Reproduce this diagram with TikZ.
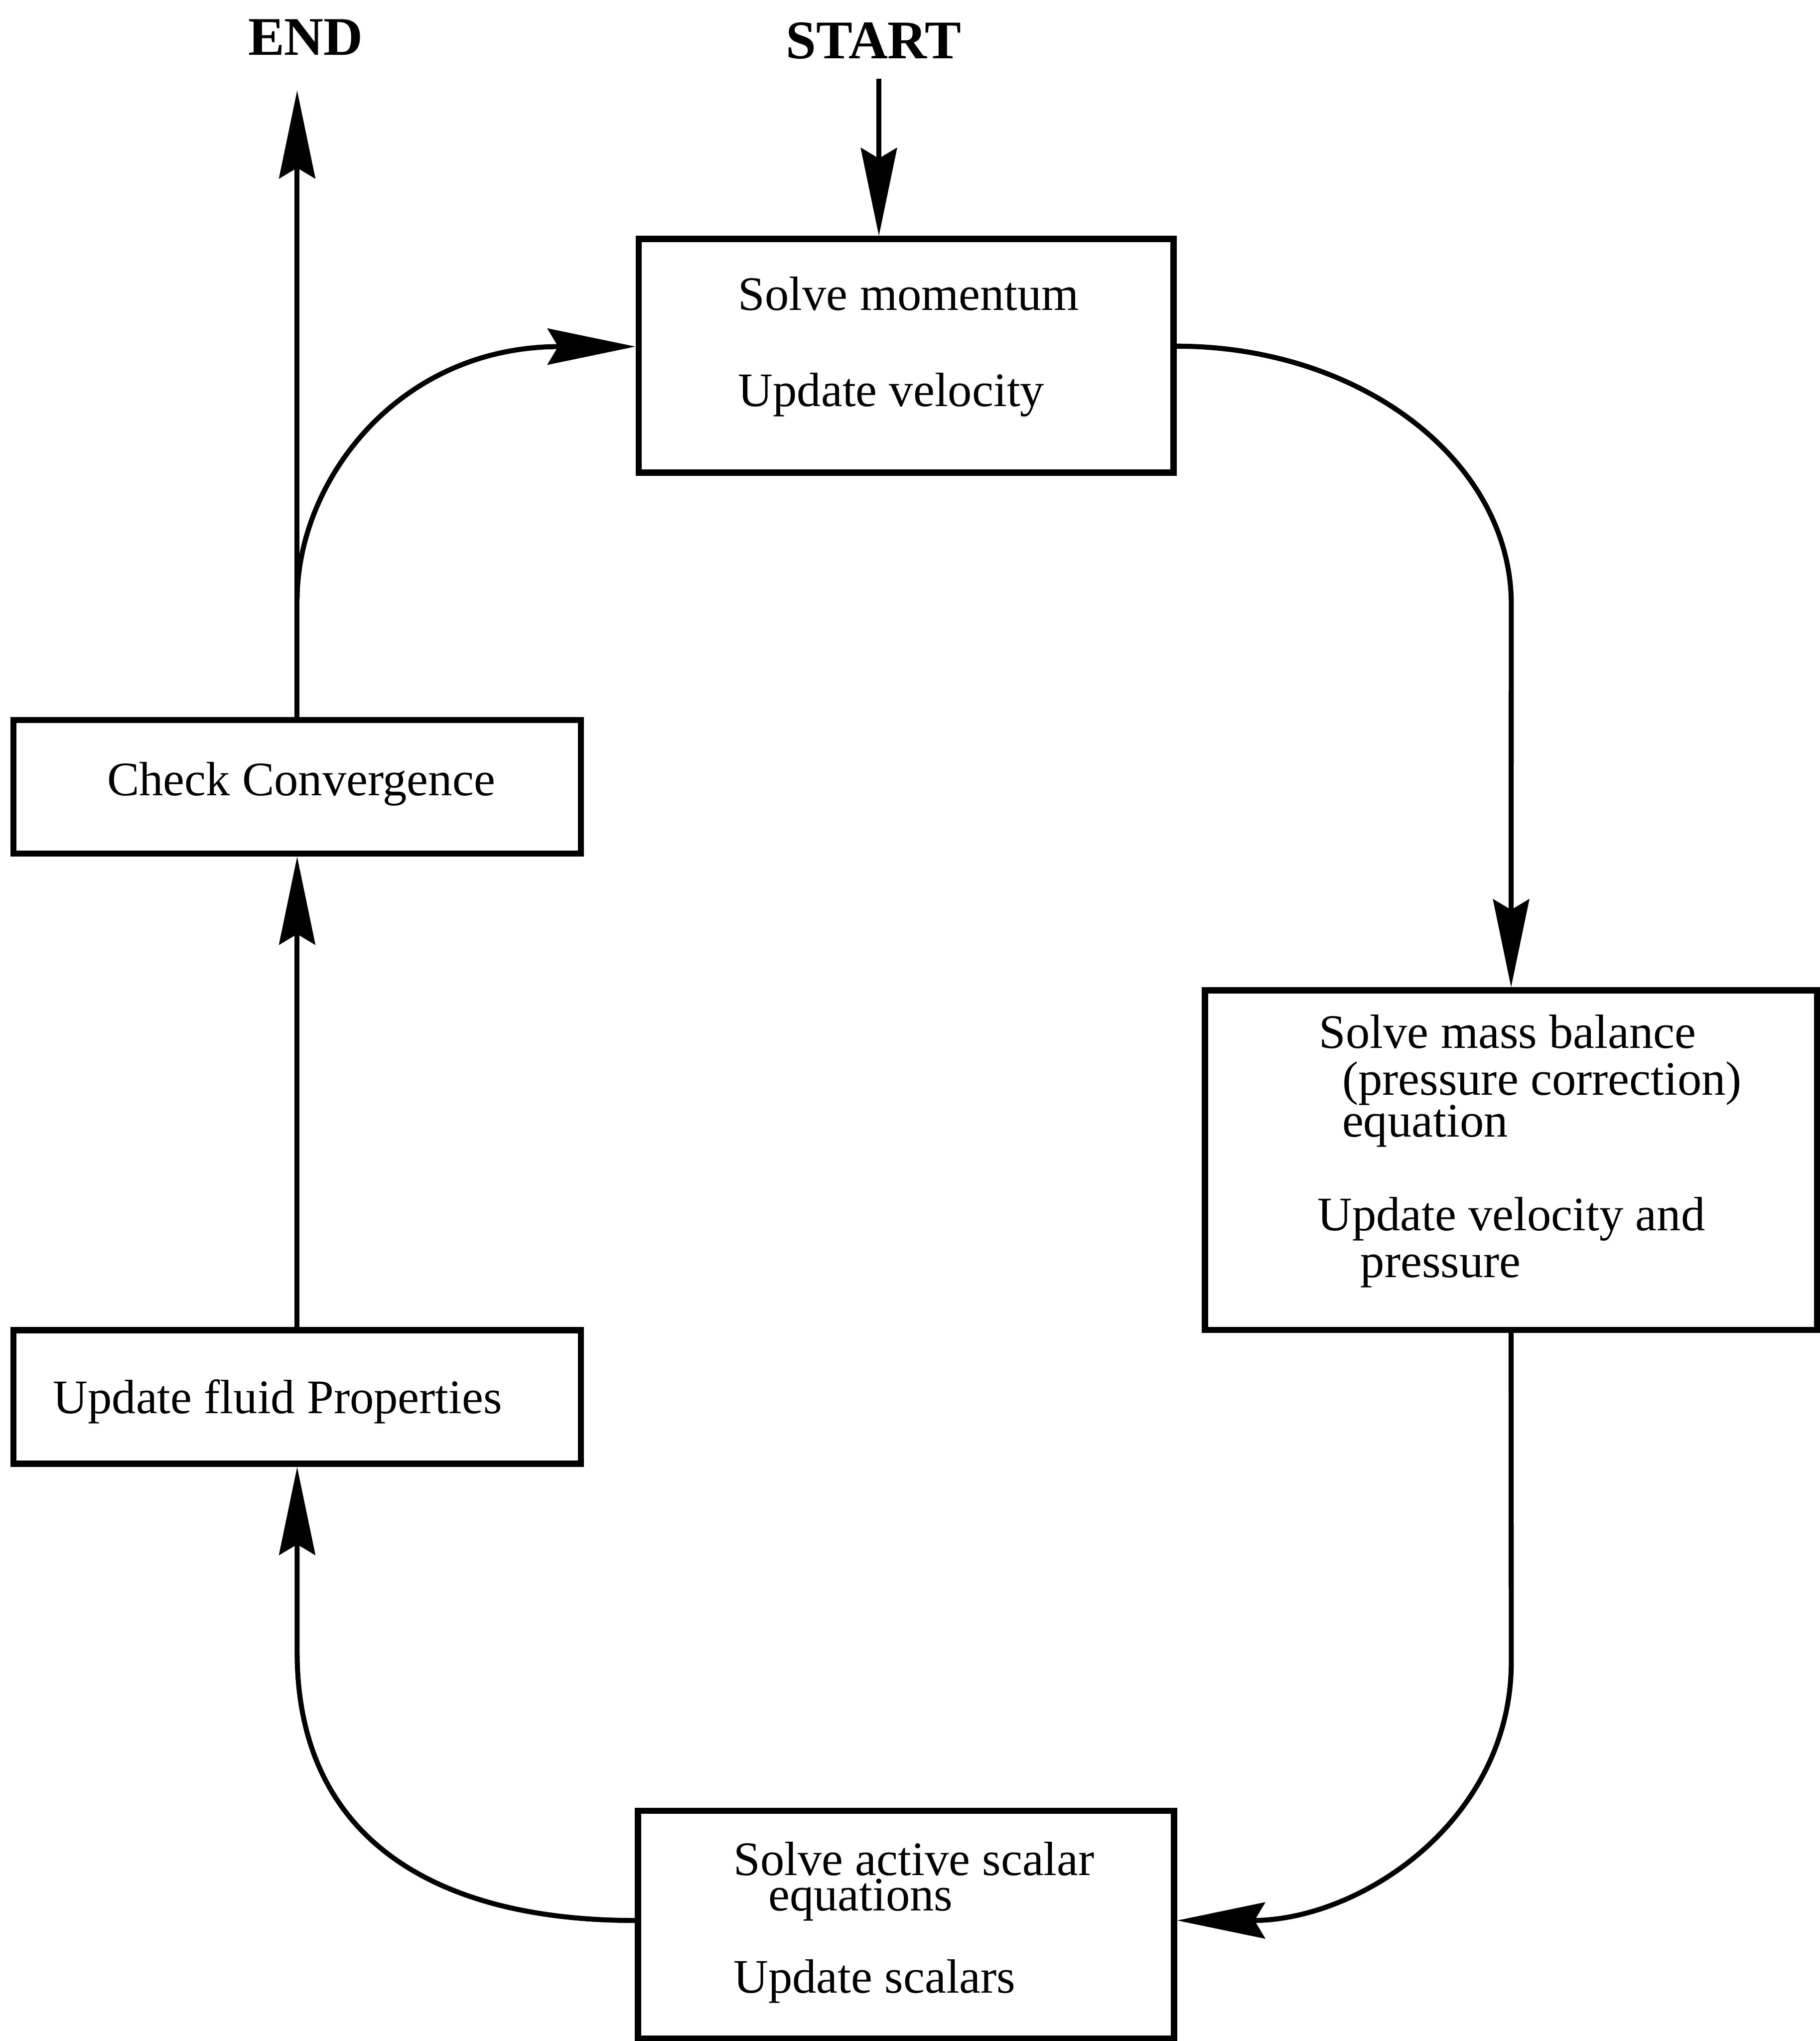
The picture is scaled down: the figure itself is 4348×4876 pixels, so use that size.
\documentclass[tikz,border=0pt]{standalone}
\usepackage{fontspec}
\setmainfont{Liberation Serif}
\usetikzlibrary{arrows.meta}
\begin{document}
\begin{tikzpicture}[x=0.1pt,y=-0.1pt,
  box/.style={draw, line width=1.5pt, rectangle, inner sep=0pt},
  txt/.style={anchor=base west, inner sep=0pt, font=\fontsize{11.5pt}{13pt}\selectfont},
  ttl/.style={anchor=base west, inner sep=0pt, font=\fontsize{13pt}{15pt}\selectfont\bfseries},
  conn/.style={line width=1.2pt},
  arr/.style={conn, -{Stealth[length=21pt,width=8.6pt,inset=2.5pt]}}]
\useasboundingbox (0,0) rectangle (4348,4876);

% boxes
\node[box, minimum width=127.8pt, minimum height=55.8pt] (b1) at (2165,850) {};
\node[box, minimum width=146.3pt, minimum height=81.1pt] (b2) at (3610.5,2771.5) {};
\node[box, minimum width=128.1pt, minimum height=54.4pt] (b3) at (2164.5,4598) {};
\node[box, minimum width=135.6pt, minimum height=31.9pt] (b4) at (710,3337.5) {};
\node[box, minimum width=135.6pt, minimum height=31.9pt] (b5) at (710,1879.5) {};

% texts
\node[ttl] (tend) at (591,132) {END};
\node[ttl] (tstart) at (1876,140) {START};

\node[txt] (t11) at (1762,741) {Solve momentum};
\node[txt] (t12) at (1762,971) {Update velocity};

\node[txt] (t21) at (3150,2504) {Solve mass balance};
\node[txt] (t22) at (3205,2616) {(pressure correction)};
\node[txt] (t23) at (3205,2716) {equation};
\node[txt] (t24) at (3146,2940) {Update velocity and};
\node[txt] (t25) at (3249,3052) {pressure};

\node[txt] (t31) at (1751,4480) {\vtop{\baselineskip=8.5pt\lineskiplimit=-20pt\hbox{Solve active scalar}\hbox{\hskip8.3pt equations}}};
\node[txt] (t33) at (1751,4761) {Update scalars};

\node[txt] (t41) at (125,3377) {Update fluid Properties};
\node[txt] (t51) at (254,1900) {Check Convergence};

% coordinates
\coordinate (startc) at (2100,188);
\coordinate (endc) at (710,216);
\coordinate (br) at (710,1433);

% connectors
\draw[arr] (startc) -- (startc |- b1.north);
\draw[arr] (b5.north) -- (endc);
\draw[arr] (br) .. controls (710,1150) and (950,828) .. ([yshift=2.2pt]b1.west);
\draw[arr] ([yshift=2.3pt]b1.east) .. controls (3250,827) and (3611,1100) .. (3611,1444) -- (b2.north);
\draw[arr] (b2.south) -- (3611,3970) .. controls (3611,4350) and (3250,4588) .. ([yshift=1pt]b3.east);
\draw[arr] ([yshift=1pt]b3.west) .. controls (1050,4588) and (710,4400) .. (710,3947) -- (b4.south);
\draw[arr] (b4.north) -- (b5.south);
\end{tikzpicture}
\end{document}
